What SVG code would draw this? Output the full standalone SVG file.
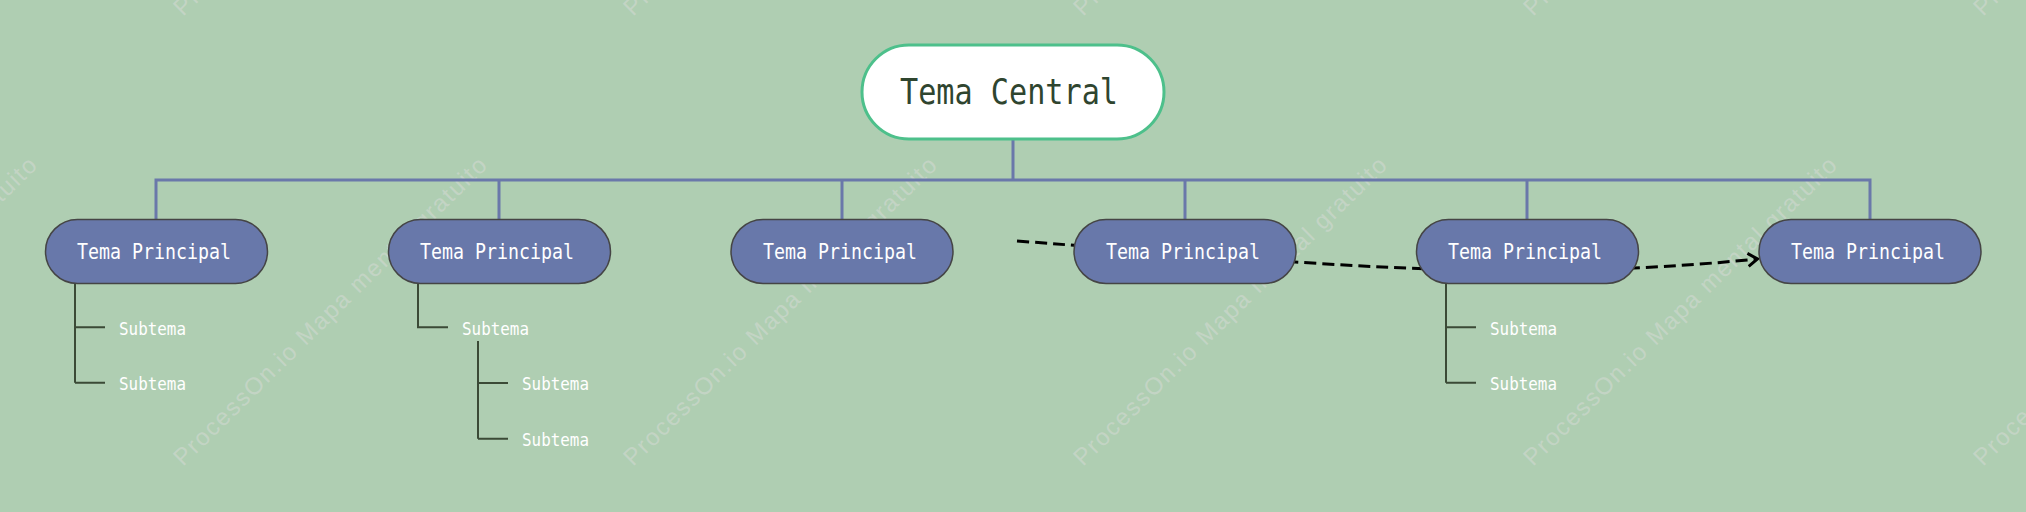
<svg xmlns="http://www.w3.org/2000/svg" width="2026" height="512" viewBox="0 0 2026 512">
<defs>
<style>
.wm{font-family:"Liberation Sans",Arial,sans-serif;font-size:24px;fill:#c9d6ca;fill-opacity:0.8}
.main rect{fill:#6878aa;stroke:#454545;stroke-width:1.5}
.main text{font-family:"DejaVu Sans Mono","Liberation Mono",monospace;font-size:21px;fill:#ffffff;text-anchor:middle}
.sub{font-family:"DejaVu Sans Mono","Liberation Mono",monospace;font-size:17px;fill:#ffffff}
.bus{stroke:#6a78aa;stroke-width:3;fill:none}
.br{stroke:#3b4a36;stroke-width:2;fill:none}
</style>
<marker id="arr" viewBox="0 0 12 16" refX="10" refY="8" markerWidth="12" markerHeight="16" markerUnits="userSpaceOnUse" orient="auto">
<path d="M1,1.5 L10.5,8 L1,14.5" fill="none" stroke="#000" stroke-width="3"/>
</marker>
</defs>
<rect width="2026" height="512" fill="#afceb2"/>
<g id="watermarks">
<text class="wm" transform="translate(-267,17) rotate(-44.5)" textLength="428">ProcessOn.io Mapa mental gratuito</text>
<text class="wm" transform="translate(183,17) rotate(-44.5)" textLength="428">ProcessOn.io Mapa mental gratuito</text>
<text class="wm" transform="translate(633,17) rotate(-44.5)" textLength="428">ProcessOn.io Mapa mental gratuito</text>
<text class="wm" transform="translate(1083,17) rotate(-44.5)" textLength="428">ProcessOn.io Mapa mental gratuito</text>
<text class="wm" transform="translate(1533,17) rotate(-44.5)" textLength="428">ProcessOn.io Mapa mental gratuito</text>
<text class="wm" transform="translate(1983,17) rotate(-44.5)" textLength="428">ProcessOn.io Mapa mental gratuito</text>
<text class="wm" transform="translate(-267,467) rotate(-44.5)" textLength="428">ProcessOn.io Mapa mental gratuito</text>
<text class="wm" transform="translate(183,467) rotate(-44.5)" textLength="428">ProcessOn.io Mapa mental gratuito</text>
<text class="wm" transform="translate(633,467) rotate(-44.5)" textLength="428">ProcessOn.io Mapa mental gratuito</text>
<text class="wm" transform="translate(1083,467) rotate(-44.5)" textLength="428">ProcessOn.io Mapa mental gratuito</text>
<text class="wm" transform="translate(1533,467) rotate(-44.5)" textLength="428">ProcessOn.io Mapa mental gratuito</text>
<text class="wm" transform="translate(1983,467) rotate(-44.5)" textLength="428">ProcessOn.io Mapa mental gratuito</text>
</g>
<g id="connectors">
<path class="bus" d="M1013,140 V180 M156,219 V180 H1870 V219 M499,180 V219 M842,180 V219 M1185,180 V219 M1527,180 V219"/>
<path class="br" d="M75,284 V382.7 M75,327.3 H105 M75,382.7 H105"/>
<path class="br" d="M418,284 V327.3 H448 M478,341 V438.7 M478,383 H508 M478,438.7 H508"/>
<path class="br" d="M1446,284 V382.7 M1446,327.3 H1476 M1446,382.7 H1476"/>
<path d="M1017,241 C1300,262 1500,285 1757,259" fill="none" stroke="#000" stroke-width="3" stroke-dasharray="12 6" marker-end="url(#arr)"/>
</g>
<g id="central">
<rect x="862" y="45" width="302" height="94" rx="47" fill="#ffffff" stroke="#4dc08b" stroke-width="3"/>
<text x="1009" y="104" font-family="DejaVu Sans Mono,Liberation Mono,monospace" font-size="35" fill="#2f452f" text-anchor="middle" textLength="218" lengthAdjust="spacingAndGlyphs">Tema Central</text>
</g>
<g id="main1" class="main"><rect x="45.5" y="219.5" width="222" height="64" rx="32"/><text x="154" y="259" textLength="154" lengthAdjust="spacingAndGlyphs">Tema Principal</text></g>
<g id="main2" class="main"><rect x="388.5" y="219.5" width="222" height="64" rx="32"/><text x="497" y="259" textLength="154" lengthAdjust="spacingAndGlyphs">Tema Principal</text></g>
<g id="main3" class="main"><rect x="731" y="219.5" width="222" height="64" rx="32"/><text x="840" y="259" textLength="154" lengthAdjust="spacingAndGlyphs">Tema Principal</text></g>
<g id="main4" class="main"><rect x="1074" y="219.5" width="222" height="64" rx="32"/><text x="1183" y="259" textLength="154" lengthAdjust="spacingAndGlyphs">Tema Principal</text></g>
<g id="main5" class="main"><rect x="1416.5" y="219.5" width="222" height="64" rx="32"/><text x="1525" y="259" textLength="154" lengthAdjust="spacingAndGlyphs">Tema Principal</text></g>
<g id="main6" class="main"><rect x="1759" y="219.5" width="222" height="64" rx="32"/><text x="1868" y="259" textLength="154" lengthAdjust="spacingAndGlyphs">Tema Principal</text></g>
<g id="sub1a"><text class="sub" x="119" y="334.7" textLength="67" lengthAdjust="spacingAndGlyphs">Subtema</text></g>
<g id="sub1b"><text class="sub" x="119" y="390" textLength="67" lengthAdjust="spacingAndGlyphs">Subtema</text></g>
<g id="sub2a"><text class="sub" x="462" y="334.7" textLength="67" lengthAdjust="spacingAndGlyphs">Subtema</text></g>
<g id="sub2a1"><text class="sub" x="522" y="390" textLength="67" lengthAdjust="spacingAndGlyphs">Subtema</text></g>
<g id="sub2a2"><text class="sub" x="522" y="445.7" textLength="67" lengthAdjust="spacingAndGlyphs">Subtema</text></g>
<g id="sub5a"><text class="sub" x="1490" y="334.7" textLength="67" lengthAdjust="spacingAndGlyphs">Subtema</text></g>
<g id="sub5b"><text class="sub" x="1490" y="390" textLength="67" lengthAdjust="spacingAndGlyphs">Subtema</text></g>
</svg>
